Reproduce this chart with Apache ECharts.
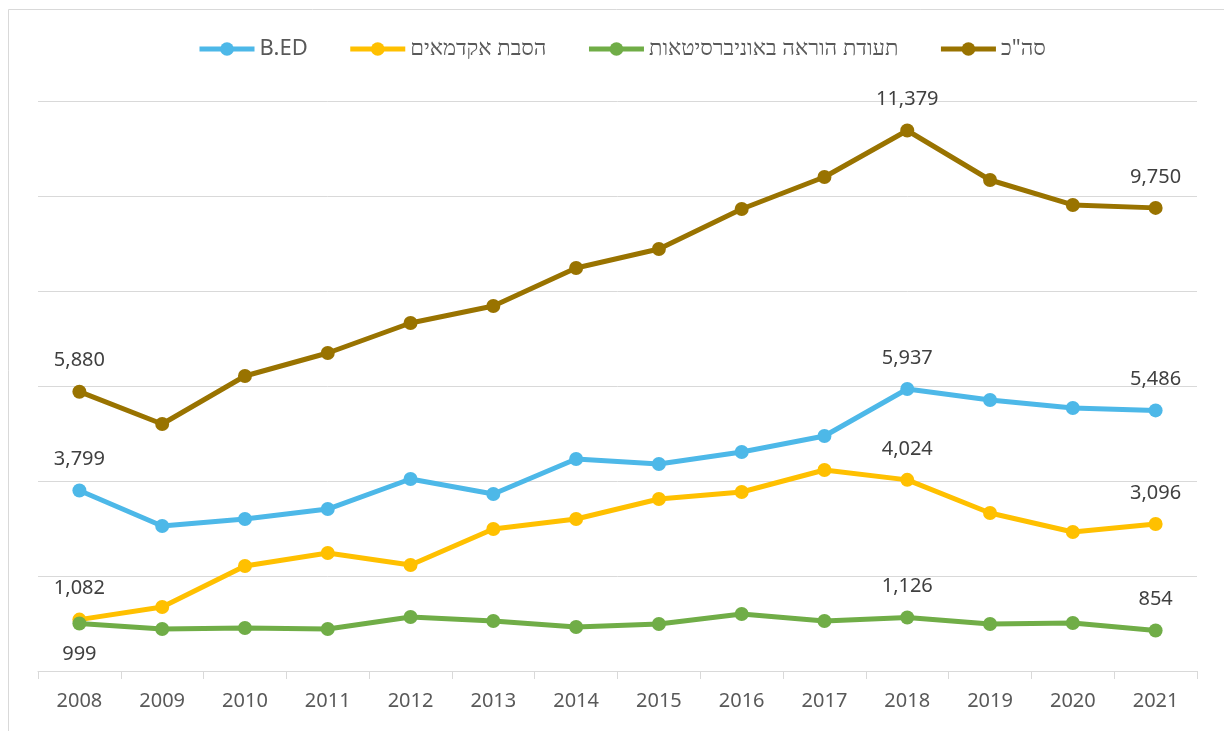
<!DOCTYPE html>
<html>
<head>
<meta charset="utf-8">
<script src="https://cdn.jsdelivr.net/npm/echarts@6/dist/echarts.min.js"></script>
<style>
  html, body { margin: 0; padding: 0; background: #fff; }
  #chart { width: 1224px; height: 731px; }
</style>
</head>
<body>
<div id="chart"></div>
<script>
// שנים
const years = ['2008', '2009', '2010', '2011', '2012', '2013', '2014', '2015', '2016', '2017', '2018', '2019', '2020', '2021'];

// ערכים לפי מסלול
const bed = [3799, 3053, 3200, 3410, 4042, 3726, 4463, 4358, 4610, 4947, 5937, 5705, 5537, 5486];
const retraining = [1082, 1347, 2210, 2484, 2232, 2989, 3200, 3621, 3768, 4232, 4024, 3326, 2926, 3096];
const uniCert = [999, 884, 905, 884, 1137, 1053, 926, 989, 1200, 1053, 1126, 989, 1010, 854];
const total = [5880, 5200, 6210, 6695, 7326, 7684, 8484, 8884, 9726, 10400, 11379, 10337, 9811, 9750];

// נקודות עם תווית: 2008, 2018, 2021
const labelled = [0, 10, 13];

const fmt = v => v.toLocaleString('en-US');

function withLabels(values, below) {
  return values.map((v, i) => {
    if (!labelled.includes(i)) return v;
    const item = { value: v, label: { show: true } };
    if (below && i === 0) item.label.position = 'bottom';
    return item;
  });
}

function lineSeries(name, color, values, below) {
  return {
    name: name,
    type: 'line',
    data: withLabels(values, below),
    symbol: 'circle',
    symbolSize: 14,
    lineStyle: { color: color, width: 5 },
    itemStyle: { color: color },
    label: {
      show: false,
      position: 'top',
      distance: 14,
      color: '#404040',
      fontSize: 20,
      fontFamily: 'Noto Sans',
      formatter: p => fmt(p.value)
    },
    emphasis: { disabled: true },
    animation: false
  };
}

const myChart = echarts.init(document.getElementById('chart'), null, { renderer: 'canvas' });
myChart.setOption({
  backgroundColor: '#fff',
  textStyle: { fontFamily: 'Noto Sans' },
  graphic: [{
    type: 'rect',
    shape: { x: 8.5, y: 9.5, width: 1240, height: 760 },
    style: { fill: 'none', stroke: '#d9d9d9', lineWidth: 1 },
    silent: true
  }],
  legend: {
    top: 33,
    left: 192,
    itemWidth: 55,
    itemHeight: 17,
    itemGap: 40,
    lineStyle: { width: 5 },
    textStyle: { color: '#595959', fontSize: 22, fontFamily: 'Noto Sans' },
    data: ['B.ED', 'הסבת אקדמאים', 'תעודת הוראה באוניברסיטאות', 'סה"כ']
  },
  grid: {
    left: 38,
    right: 27,
    top: 101,
    bottom: 60
  },
  xAxis: {
    type: 'category',
    data: years,
    axisLine: { lineStyle: { color: '#d9d9d9', width: 1 } },
    axisTick: { show: true, length: 8, lineStyle: { color: '#d9d9d9' } },
    axisLabel: { color: '#595959', fontSize: 20, margin: 20, fontFamily: 'Noto Sans' }
  },
  yAxis: {
    type: 'value',
    min: 0,
    max: 12000,
    interval: 2000,
    axisLabel: { show: false },
    axisLine: { show: false },
    axisTick: { show: false },
    splitLine: { lineStyle: { color: '#d9d9d9', width: 1 } }
  },
  series: [
    lineSeries('B.ED', '#4db8e8', bed),
    lineSeries('הסבת אקדמאים', '#ffc000', retraining),
    lineSeries('תעודת הוראה באוניברסיטאות', '#70ad47', uniCert, true),
    lineSeries('סה"כ', '#997300', total)
  ]
});
</script>
</body>
</html>
